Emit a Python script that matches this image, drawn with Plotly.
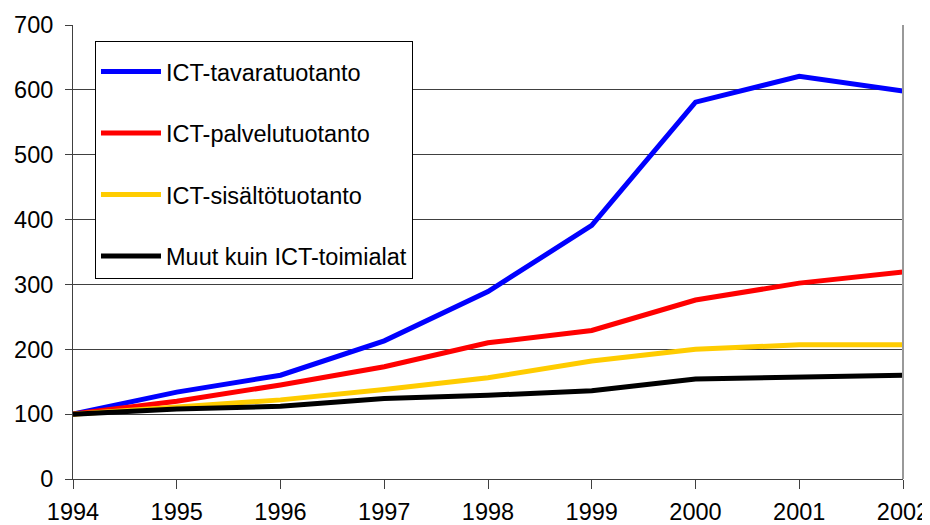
import plotly.graph_objects as go

years = [1994, 1995, 1996, 1997, 1998, 1999, 2000, 2001, 2002]
tavara = [100, 134, 160, 213, 289, 391, 581, 621, 598]
palvelu = [100, 120, 145, 173, 210, 229, 276, 302, 319]
sisalto = [100, 111, 122, 138, 156, 182, 200, 207, 207]
muut = [100, 108, 112, 124, 129, 136, 154, 157, 160]

names = ["ICT-tavaratuotanto", "ICT-palvelutuotanto", "ICT-sisältötuotanto", "Muut kuin ICT-toimialat"]
colors = ["#0000FF", "#FF0000", "#FFCC00", "#000000"]
series = [tavara, palvelu, sisalto, muut]

fig = go.Figure()
for i, (n, c, s) in enumerate(zip(names, colors, series)):
    fig.add_trace(go.Scatter(x=years, y=s, mode="lines", name=n, legendgroup=str(i),
                             line=dict(color=c, width=5), cliponaxis=False))

fig.update_layout(
    width=922, height=517,
    margin=dict(l=65, r=27, t=17, b=46),
    paper_bgcolor="white", plot_bgcolor="white",
    font=dict(family="Liberation Sans, Arial, sans-serif", color="#000000"),
    showlegend=True,
    legend=dict(x=0.0265, y=0.965, xanchor="left", yanchor="top",
                bordercolor="#000000", borderwidth=1, bgcolor="white",
                font=dict(size=23.5), tracegroupgap=28, itemwidth=60,
                traceorder="grouped",
                title=dict(text="\u00a0", font=dict(size=6))),
    xaxis=dict(range=[1994, 2002], tickmode="array", tickvals=years,
               ticktext=[str(y) for y in years], ticks="outside", ticklen=9,
               tickcolor="#404040", showline=True, linecolor="#404040", linewidth=1,
               showgrid=False, zeroline=False, tickfont=dict(size=23.5),
               automargin=False, ticklabelstandoff=3),
    yaxis=dict(range=[0, 700], tickmode="array", tickvals=list(range(0, 701, 100)),
               ticks="outside", ticklen=7, tickcolor="#404040",
               showline=True, linecolor="#404040", linewidth=1,
               showgrid=True, gridcolor="#404040", gridwidth=1, zeroline=False,
               tickfont=dict(size=23.5), automargin=False, ticklabelstandoff=7),
    shapes=[dict(type="line", xref="paper", yref="paper", x0=1, x1=1, y0=0, y1=1,
                 line=dict(color="#999999", width=2))],
)

fig.write_html("out.html")
